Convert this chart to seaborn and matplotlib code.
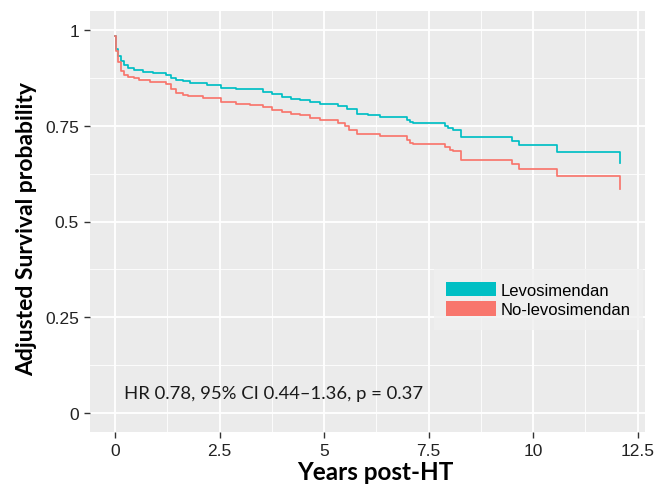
import numpy as np
import pandas as pd
import matplotlib
matplotlib.use("Agg")
import matplotlib.pyplot as plt
from matplotlib.patches import Patch
from matplotlib.ticker import MultipleLocator
import seaborn as sns

# ---- data ----
groups = ["Levosimendan", "No-levosimendan"]
colors = ["#00BFC4", "#F8766D"]

levo_time = [0, 0.01, 0.03, 0.07, 0.14, 0.22, 0.30, 0.45, 0.66, 0.9, 1.22, 1.34, 1.46, 1.62, 1.78,
             2.2, 2.54, 2.9, 3.22, 3.54, 3.75, 3.98, 4.2, 4.42, 4.65, 4.9, 5.33, 5.55, 5.78, 6.05,
             6.33, 6.97, 7.05, 7.13, 7.89, 7.95, 8.07, 8.27, 9.5, 9.67, 10.57, 12.07]
levo_surv = [0.985, 0.965, 0.951, 0.933, 0.920, 0.908, 0.900, 0.895, 0.890, 0.887, 0.884, 0.876,
             0.870, 0.866, 0.862, 0.857, 0.850, 0.847, 0.845, 0.838, 0.832, 0.825, 0.821, 0.817,
             0.812, 0.807, 0.801, 0.795, 0.782, 0.777, 0.773, 0.765, 0.760, 0.757, 0.750, 0.745,
             0.738, 0.720, 0.710, 0.700, 0.682, 0.653]

nolevo_time = [0, 0.01, 0.03, 0.07, 0.14, 0.22, 0.30, 0.45, 0.58, 0.82, 1.22, 1.34, 1.46, 1.62, 1.74,
               2.1, 2.54, 2.9, 3.22, 3.54, 3.75, 3.98, 4.2, 4.42, 4.65, 4.9, 5.33, 5.5, 5.6, 5.78,
               6.33, 6.97, 7.05, 7.13, 7.89, 8.0, 8.07, 8.27, 9.5, 9.67, 10.57, 12.07]
nolevo_surv = [0.985, 0.960, 0.946, 0.916, 0.894, 0.884, 0.877, 0.874, 0.871, 0.864, 0.858, 0.846,
               0.836, 0.830, 0.827, 0.823, 0.813, 0.808, 0.805, 0.798, 0.792, 0.786, 0.781, 0.777,
               0.770, 0.764, 0.758, 0.750, 0.740, 0.729, 0.723, 0.714, 0.706, 0.703, 0.694, 0.688,
               0.683, 0.661, 0.649, 0.638, 0.618, 0.584]

x_ticks = [0, 2.5, 5, 7.5, 10, 12.5]
x_tick_labels = ["0", "2.5", "5", "7.5", "10", "12.5"]
y_ticks = [0, 0.25, 0.5, 0.75, 1]
y_tick_labels = ["0", "0.25", "0.5", "0.75", "1"]
annotation = "HR 0.78, 95% CI 0.44\u20131.36, p = 0.37"

df = pd.concat([
    pd.DataFrame({"time": levo_time, "surv": levo_surv, "group": groups[0]}),
    pd.DataFrame({"time": nolevo_time, "surv": nolevo_surv, "group": groups[1]}),
], ignore_index=True)

plt.rcParams["font.family"] = ["Liberation Sans", "DejaVu Sans"]

# ---- plot ----
fig = plt.figure(figsize=(6.57, 4.89), dpi=100)
ax = fig.add_axes([90 / 657, 1 - 433 / 489, 555 / 657, 421 / 489])
ax.set_facecolor("#EBEBEB")

sns.lineplot(data=df, x="time", y="surv", hue="group", palette=dict(zip(groups, colors)),
             estimator=None, sort=False, drawstyle="steps-post", linewidth=1.25,
             legend=False, ax=ax)

xmax = max(levo_time[-1], nolevo_time[-1])
pad = 0.05 * xmax
ax.set_xlim(-pad, xmax + pad)
ax.set_ylim(-0.05, 1.05)

ax.set_xticks(x_ticks)
ax.set_xticklabels(x_tick_labels, family="Liberation Sans", fontsize=12.5, color="#222222")
ax.set_yticks(y_ticks)
ax.set_yticklabels(y_tick_labels, family="Liberation Sans", fontsize=12.5, color="#222222")
ax.xaxis.set_minor_locator(MultipleLocator(1.25))
ax.yaxis.set_minor_locator(MultipleLocator(0.125))

ax.grid(which="major", color="white", linewidth=1.3)
ax.grid(which="minor", color="white", linewidth=0.6)
ax.set_axisbelow(True)
for s in ax.spines.values():
    s.set_visible(False)

ax.tick_params(axis="both", which="major", length=4, width=1.0, color="#333333", pad=4)
ax.tick_params(axis="both", which="minor", length=0)

ax.set_xlabel("Years post-HT", fontsize=17.5, fontweight="bold", family="Lato")
ax.xaxis.set_label_coords(0.515, -0.093, transform=ax.transAxes)
ax.xaxis.label.set_va("center")
ax.set_ylabel("Adjusted Survival probability", fontsize=16.5, fontweight="bold", family="Lato")
ax.yaxis.set_label_coords(-0.095, 0.485, transform=ax.transAxes)
ax.yaxis.label.set_va("bottom")

ax.text(0.2, 0.052, annotation, fontsize=13.3, family="Lato", ha="left", va="center",
        color="#1a1a1a")

handles = [Patch(facecolor=c, edgecolor="none", label=g) for g, c in zip(groups, colors)]
leg = ax.legend(handles=handles, loc="upper right", bbox_to_anchor=(0.996, 0.387),
                frameon=True, handlelength=3.0, handleheight=1.0,
                handletextpad=0.25, labelspacing=0.2, borderpad=0.75, borderaxespad=0,
                prop={"family": "Liberation Sans", "size": 12})
leg.get_frame().set_facecolor("#F0F0F0")
leg.get_frame().set_edgecolor("none")
leg.get_frame().set_boxstyle("square", pad=0)

fig.savefig("out.png", dpi=100)
